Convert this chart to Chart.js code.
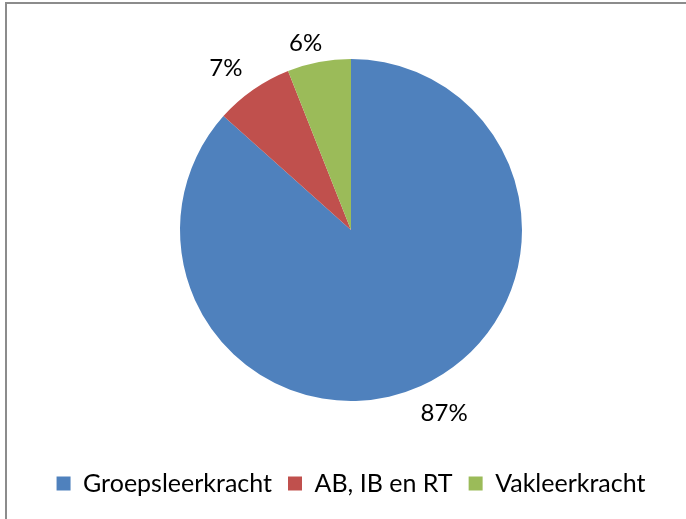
<!DOCTYPE html>
<html>
<head>
<meta charset="utf-8">
<script src="https://cdn.jsdelivr.net/npm/chart.js@4"></script>
<style>
  html, body { margin: 0; padding: 0; background: #fff; overflow: hidden; }
  body { width: 686px; height: 519px; position: relative; }
  .frame {
    position: absolute; left: 5px; top: 2px; width: 720px; height: 560px;
    border-top: 2px solid #8c8c8c; border-left: 2px solid #8c8c8c;
  }
  .wrap { position: absolute; left: 0; top: 0; width: 686px; height: 519px; }
</style>
</head>
<body>
<div class="frame"></div>
<div class="wrap"><canvas id="pie"></canvas></div>
<script>
const categories = ['Groepsleerkracht', 'AB, IB en RT', 'Vakleerkracht'];
const shares = [86.6, 7.4, 6.0];
const colors = ['#4F81BD', '#C0504D', '#9BBB59'];

// percentage labels just outside each slice, like Excel's "outside end"
const outsideLabels = {
  id: 'outsideLabels',
  afterDatasetsDraw(chart) {
    const ctx = chart.ctx;
    const meta = chart.getDatasetMeta(0);
    const total = shares.reduce((a, b) => a + b, 0);
    ctx.save();
    ctx.font = '24px Lato';
    ctx.fillStyle = '#000';
    ctx.textAlign = 'center';
    ctx.textBaseline = 'middle';
    meta.data.forEach((arc, i) => {
      const p = arc.getProps(['x', 'y', 'startAngle', 'endAngle', 'outerRadius'], true);
      const mid = (p.startAngle + p.endAngle) / 2 - 0.05;
      const txt = Math.round(shares[i] / total * 100) + '%';
      const w = ctx.measureText(txt).width;
      const d = p.outerRadius + 14 + Math.abs(Math.cos(mid)) * w * 0.95;
      ctx.fillText(txt, p.x + Math.cos(mid) * d, p.y + Math.sin(mid) * d);
    });
    ctx.restore();
  }
};

new Chart(document.getElementById('pie').getContext('2d'), {
  type: 'pie',
  data: {
    labels: categories,
    datasets: [{
      data: shares,
      backgroundColor: colors,
      borderWidth: 0,
      radius: 171
    }]
  },
  options: {
    responsive: true,
    maintainAspectRatio: false,
    animation: false,
    layout: { padding: { left: 16, right: 0, top: 5, bottom: 13 } },
    plugins: {
      tooltip: { enabled: false },
      legend: {
        position: 'bottom',
        labels: {
          boxWidth: 14,
          boxHeight: 14,
          padding: 16,
          color: '#000',
          font: { family: 'Lato', size: 25 }
        }
      }
    }
  },
  plugins: [outsideLabels]
});
</script>
</body>
</html>
